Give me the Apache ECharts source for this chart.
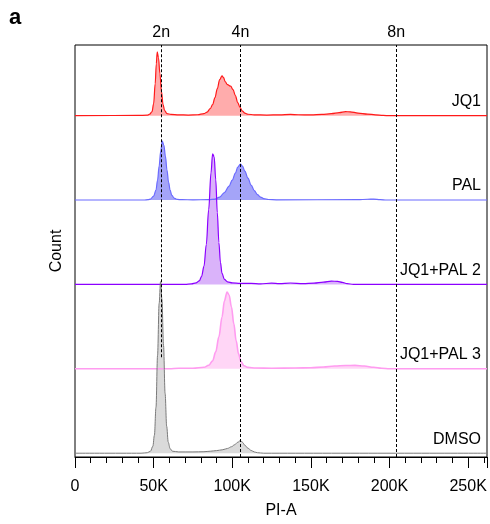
<!DOCTYPE html>
<html>
<head>
<meta charset="utf-8">
<script src="https://cdn.jsdelivr.net/npm/echarts@6/dist/echarts.min.js"></script>
<style>
  html, body { margin: 0; padding: 0; background: #fff; }
  #main { width: 490px; height: 524px; }
</style>
</head>
<body>
<div id="main"></div>
<script>
// PI-A in thousands, count in the plot's own height units
var sampleNames = ['JQ1', 'PAL', 'JQ1+PAL 2', 'JQ1+PAL 3', 'DMSO'];
var baselines = [342.2, 257.6, 173, 88.4, 3.8];

var jq1 = [[0,0],[40,0.2],[46,0.5],[47.5,1.5],[49,4],[50,12],[51,32],[51.7,52],[52.3,64],[53.1,58],[54,42],[55,24],[56,11],[57,5],[58.5,2],[61,1.2],[66,0.8],[72,0.6],[78,0.9],[82,2],[84,3.5],[86,7],[87.5,11],[89,18],[90.5,27],[92,36],[93.5,40],[94.5,38],[95.5,34],[97,31],[99,29.5],[100.5,26],[102,20],[103.5,13],[105,8],[106.5,4.5],[108,2.5],[110,1.4],[114,0.8],[122,0.6],[130,0.8],[137,1.2],[142,0.9],[150,0.8],[157,1.2],[163,2],[168,3],[172,4],[175,3.8],[180,2.6],[186,1.6],[191,0.8],[196,0.2],[200,0],[262,0]];
var pal = [[0,0],[44,0],[46.5,0.4],[48,1],[50,4],[51.5,10],[52.5,20],[53.5,34],[54.5,49],[55.5,59],[56.5,55],[57.5,44],[58.5,30],[59.5,18],[60.5,10],[61.5,5],[63,2],[65,0.6],[68,0.3],[75,0.2],[85,0.3],[89,1],[92,3],[95,7.5],[98,14],[100,20],[102,27],[103.5,33],[105.2,36],[106.5,34],[108,29],[110,22],[112,15],[114,9.5],[116,5.5],[118,3],[120,1.5],[123,0.5],[128,0.2],[180,0.3],[186,0.8],[190,1],[194,0.4],[198,0],[262,0]];
var jq1pal2 = [[0,0],[70,0],[74,0.5],[77,1.5],[79,3.5],[80.5,8],[82,18],[83.5,40],[85,75],[86.5,112],[87.5,131],[88.5,128],[89.5,105],[90.5,72],[91.5,42],[92.5,22],[93.5,11],[95,5],[97,2.5],[100,1.5],[105,1],[112,1],[118,0.6],[125,1.2],[130,0.8],[137,1.4],[145,0.8],[152,1.3],[158,2.3],[163,3.3],[167,3],[170,2],[173,0.8],[177,0],[262,0]];
var jq1pal3 = [[0,0],[60,0],[66,0.5],[75,0.5],[82,1.5],[85,3.5],[87.5,8],[89.5,17],[91.5,32],[93.5,52],[95,68],[96.7,77],[98,74],[99.5,62],[101,45],[102.5,28],[104,15],[105.5,7.5],[107.5,3],[110,1.4],[115,0.8],[125,0.6],[140,0.8],[150,1],[158,1.8],[165,2.8],[172,3.3],[178,3.4],[184,2.8],[190,1.5],[195,0.5],[200,0],[262,0]];
var dmso = [[0,0],[42,0],[46,0.5],[48,2],[49.5,7],[50.5,18],[51.5,46],[52.5,98],[53.5,150],[54.4,172],[55.3,154],[56.3,108],[57.3,60],[58.3,27],[59.3,11],[60.5,4.5],[62,2],[66,1.3],[75,1.3],[82,1.5],[86,2],[90,2.6],[94,3.5],[97,4.8],[99.5,6.5],[101.5,8.5],[103.5,11],[105.2,12.7],[106.5,11],[108,8],[110,5],[112,2.8],[114,1.3],[116,0.5],[120,0],[262,0]];

var ploidyLabels = ['2n', '4n', '8n'];
var ploidyPositions = [54.8, 105.2, 204.3];
var ploidyLineBottoms = [100, 0, 0];

var curves = [jq1, pal, jq1pal2, jq1pal3, dmso];
var lineColors = ['#ff1a1a', '#6b6bff', '#8c00ff', '#ff9cf0', '#7a7a7a'];
var fillColors = ['rgba(255,40,40,0.55)', 'rgba(70,70,240,0.7)', 'rgba(150,40,240,0.5)', 'rgba(255,140,230,0.5)', 'rgba(150,150,150,0.5)'];
var lineWidths = [1.2, 1.2, 1.2, 1.6, 1];

var FONT = '"Liberation Sans", Arial, sans-serif';
var myChart = echarts.init(document.getElementById('main'));

var series = curves.map(function (pts, i) {
    return {
        name: sampleNames[i],
        type: 'line',
        smooth: 0.35,
        smoothMonotone: 'x',
        showSymbol: false,
        silent: true,
        lineStyle: { color: lineColors[i], width: lineWidths[i] },
        areaStyle: { color: fillColors[i], origin: baselines[i] },
        data: pts.map(function (p) { return [p[0] * 1000, p[1] + baselines[i]]; })
    };
});

// dashed ploidy markers on top of everything
series.push({
    type: 'line',
    data: [],
    silent: true,
    z: 10,
    markLine: {
        silent: true,
        symbol: ['none', 'none'],
        lineStyle: { color: '#000', type: [3, 2], width: 1 },
        data: ploidyLabels.map(function (lab, i) {
            return [
                { coord: [ploidyPositions[i] * 1000, ploidyLineBottoms[i]] },
                {
                    coord: [ploidyPositions[i] * 1000, 413],
                    label: { show: true, position: 'end', distance: 4, formatter: lab, color: '#000', fontSize: 16, fontFamily: FONT }
                }
            ];
        })
    }
});

myChart.setOption({
    animation: false,
    grid: { left: 75, right: 3, top: 45, bottom: 66, show: true, borderColor: '#000', borderWidth: 1, backgroundColor: 'transparent' },
    xAxis: {
        type: 'value',
        min: 0,
        max: 262000,
        interval: 50000,
        name: 'PI-A',
        nameLocation: 'middle',
        nameGap: 46,
        nameTextStyle: { color: '#000', fontSize: 16, fontFamily: FONT },
        axisLine: { show: true, lineStyle: { color: '#000', width: 1 } },
        axisTick: { show: true, length: 11, lineStyle: { color: '#000' } },
        minorTick: { show: true, splitNumber: 5, length: 6, lineStyle: { color: '#000' } },
        splitLine: { show: false },
        axisLabel: {
            color: '#000', fontSize: 16, fontFamily: FONT, margin: 22,
            formatter: function (v) { return v === 0 ? '0' : (v / 1000) + 'K'; }
        }
    },
    yAxis: {
        type: 'value',
        min: 0,
        max: 413,
        name: 'Count',
        nameLocation: 'middle',
        nameGap: 10,
        nameTextStyle: { color: '#000', fontSize: 16, fontFamily: FONT },
        axisLine: { show: false },
        axisTick: { show: false },
        axisLabel: { show: false },
        splitLine: { show: false }
    },
    series: series
});

// sample names, right-aligned above each baseline
var graphics = sampleNames.map(function (n, i) {
    var p = myChart.convertToPixel({ gridIndex: 0 }, [262000, baselines[i]]);
    return {
        type: 'text',
        x: p[0] - 6,
        y: p[1] - 14,
        style: { text: n, fill: '#000', font: '16px ' + FONT, textAlign: 'right', textVerticalAlign: 'middle' }
    };
});
graphics.push({
    type: 'text', left: 9, top: 7,
    style: { text: 'a', fill: '#000', font: 'bold 22px ' + FONT }
});
myChart.setOption({ graphic: graphics });
</script>
</body>
</html>
